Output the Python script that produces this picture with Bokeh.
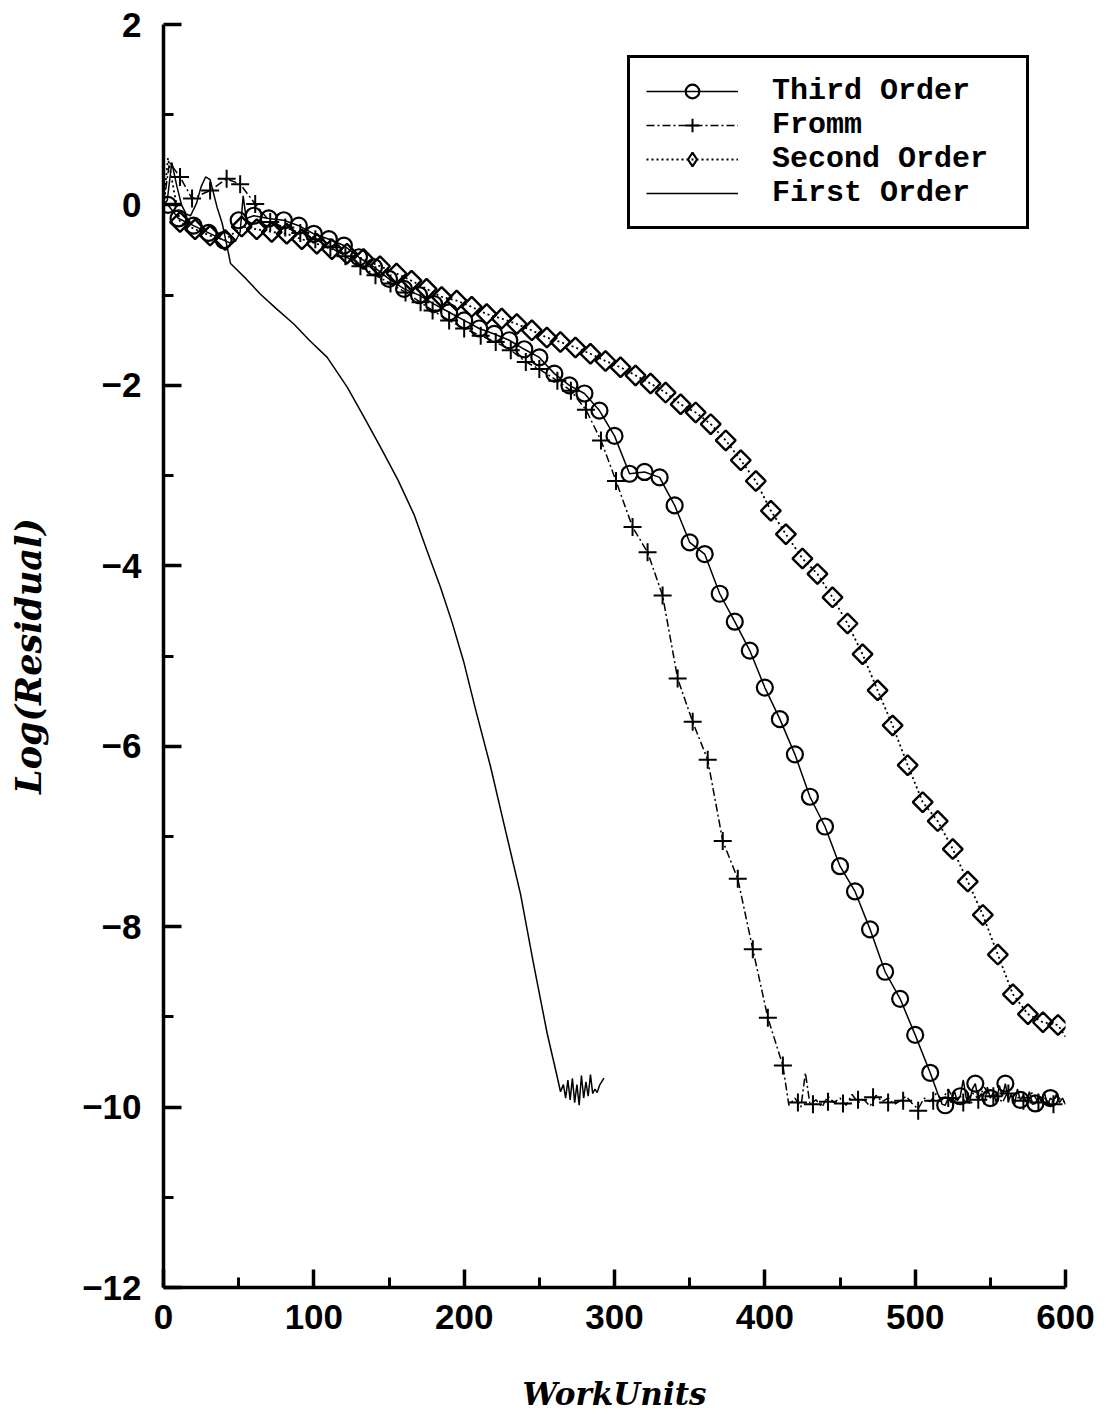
import numpy as np
from bokeh.plotting import figure
from bokeh.models import FixedTicker, Legend, LegendItem, Range1d
from bokeh.embed import file_html
from bokeh.resources import INLINE

# ---------------- data ----------------
x_ticks = [0, 100, 200, 300, 400, 500, 600]
x_minor = [50, 150, 250, 350, 450, 550]
y_ticks = [-12, -10, -8, -6, -4, -2, 0, 2]
y_minor = [-11, -9, -7, -5, -3, -1, 1]

# First Order (solid line, no markers)
first_x = [0, 2.5, 5.5, 9, 12, 15, 18, 22, 25, 28, 31, 35.7, 39, 42.4, 44.6, 55, 64.5, 75,
           86.7, 97, 108.9, 122.2, 133.3, 145.5, 156, 166.6, 175, 184.3, 192, 199.8, 208,
           217.6, 227, 237.5, 246, 255.3, 261, 264.1, 266, 267.5, 269, 270.5, 272, 273.5,
           275, 276.5, 278, 279.5, 281, 282.5, 284, 285.5, 287, 288.5, 290, 293]
first_y = [0.0, 0.05, 0.47, 0.2, 0.0, -0.1, -0.12, 0.02, 0.2, 0.31, 0.28, -0.03, -0.2, -0.47,
           -0.65, -0.82, -0.99, -1.15, -1.32, -1.5, -1.69, -2.02, -2.35, -2.72, -3.05, -3.43,
           -3.82, -4.24, -4.63, -5.07, -5.62, -6.23, -6.9, -7.64, -8.4, -9.19, -9.6, -9.83,
           -9.75, -9.9, -9.7, -9.92, -9.68, -9.95, -9.75, -9.98, -9.65, -9.9, -9.72, -9.88,
           -9.64, -9.85, -9.8, -9.84, -9.76, -9.68]

# Third Order: markers (circles) and line
third_mx = [3, 10, 20, 30, 40, 50, 60, 70, 80, 90, 100, 110, 120, 130, 140, 150, 160, 170,
            180, 190, 200, 210, 220, 230, 240, 250, 260, 270, 280, 290, 300, 310, 320, 330,
            340, 350, 360, 370, 380, 390, 400, 410, 420, 430, 440, 450, 460, 470, 480, 490,
            500, 510, 520, 530, 540, 550, 560, 570, 580, 590]
third_my = [0.0, -0.15, -0.23, -0.31, -0.39, -0.17, -0.12, -0.15, -0.17, -0.23, -0.32, -0.38,
            -0.45, -0.58, -0.69, -0.82, -0.93, -1.0, -1.1, -1.19, -1.28, -1.37, -1.43, -1.5,
            -1.6, -1.69, -1.87, -2.0, -2.09, -2.28, -2.56, -2.98, -2.96, -3.02, -3.33, -3.74,
            -3.87, -4.31, -4.62, -4.94, -5.35, -5.7, -6.09, -6.56, -6.89, -7.33, -7.61, -8.03,
            -8.5, -8.8, -9.2, -9.62, -9.98, -9.88, -9.74, -9.9, -9.74, -9.92, -9.96, -9.9]
third_x = [0, 3, 10, 20, 30, 40, 44, 48, 51, 53, 55, 60, 70, 80, 90, 100, 110, 120, 130, 140,
           150, 160, 170, 180, 190, 200, 210, 220, 230, 240, 250, 260, 270, 280, 290, 300,
           310, 320, 330, 340, 350, 360, 370, 380, 390, 400, 410, 420, 430, 440, 450, 460,
           470, 480, 490, 500, 510, 515, 518, 520, 522, 524, 526, 528, 530, 532, 534, 536,
           538, 540, 542, 544, 546, 548, 550, 552, 554, 556, 558, 560, 562, 564, 566, 568,
           570, 572, 574, 576, 578, 580, 582, 584, 586, 588, 590, 592, 594, 596, 598, 600]
third_y = [0.0, 0.0, -0.15, -0.23, -0.31, -0.39, -0.42, -0.4, -0.3, 0.1, -0.15, -0.12, -0.15,
           -0.17, -0.23, -0.32, -0.38, -0.45, -0.58, -0.69, -0.82, -0.93, -1.0, -1.1, -1.19,
           -1.28, -1.37, -1.43, -1.5, -1.6, -1.69, -1.87, -2.0, -2.09, -2.28, -2.56, -2.98,
           -2.96, -3.02, -3.33, -3.74, -3.87, -4.31, -4.62, -4.94, -5.35, -5.7, -6.09, -6.56,
           -6.89, -7.33, -7.61, -8.03, -8.5, -8.8, -9.2, -9.62, -9.85, -9.97, -9.98, -9.9,
           -9.95, -9.82, -9.93, -9.88, -9.7, -9.9, -9.96, -9.8, -9.74, -9.92, -9.85, -9.97,
           -9.78, -9.9, -9.84, -9.95, -9.76, -9.88, -9.74, -9.93, -9.86, -9.98, -9.8, -9.92,
           -9.87, -9.95, -9.83, -9.97, -9.96, -9.88, -9.94, -9.84, -9.98, -9.9, -9.93, -9.86,
           -9.95, -9.9, -9.97]

# Fromm: markers (plus) and line
fromm_mx = [11, 19, 31, 42, 51, 61, 71, 81, 91, 101, 111, 121, 131, 141, 151, 161, 171, 179,
            190, 200, 211, 221, 231, 241, 250, 262, 271, 281, 291, 301, 312, 322, 332, 342,
            352, 362, 372, 382, 392, 402, 412, 422, 432, 442, 452, 462, 472, 482, 492, 502,
            512, 522, 532, 542, 552, 562, 572, 582, 592]
fromm_my = [0.31, 0.07, 0.16, 0.29, 0.23, 0.01, -0.19, -0.25, -0.31, -0.38, -0.47, -0.57,
            -0.68, -0.78, -0.87, -0.97, -1.08, -1.17, -1.28, -1.37, -1.45, -1.52, -1.61,
            -1.74, -1.82, -1.95, -2.06, -2.27, -2.61, -3.06, -3.57, -3.85, -4.33, -5.25,
            -5.73, -6.15, -7.05, -7.47, -8.25, -9.01, -9.54, -9.95, -9.97, -9.94, -9.96,
            -9.92, -9.89, -9.95, -9.93, -10.04, -9.93, -9.9, -9.95, -9.92, -9.88, -9.85,
            -9.93, -9.95, -9.97]
fromm_x = [0, 4, 11, 19, 31, 42, 51, 56, 61, 71, 81, 91, 101, 111, 121, 131, 141, 151, 161,
           171, 179, 190, 200, 211, 221, 231, 241, 250, 262, 271, 281, 291, 301, 312, 322,
           332, 342, 352, 362, 372, 382, 392, 402, 412, 416, 420, 424, 427, 430, 434, 438,
           442, 446, 450, 454, 458, 462, 466, 470, 474, 478, 482, 486, 490, 494, 498, 502,
           506, 510, 514, 518, 522, 526, 530, 534, 538, 542, 546, 550, 554, 558, 562, 566,
           570, 574, 578, 582, 586, 590, 594, 598, 600]
fromm_y = [0.0, 0.47, 0.31, 0.07, 0.16, 0.29, 0.23, 0.12, 0.01, -0.19, -0.25, -0.31, -0.38,
           -0.47, -0.57, -0.68, -0.78, -0.87, -0.97, -1.08, -1.17, -1.28, -1.37, -1.45,
           -1.52, -1.61, -1.74, -1.82, -1.95, -2.06, -2.27, -2.61, -3.06, -3.57, -3.85,
           -4.33, -5.25, -5.73, -6.15, -7.05, -7.47, -8.25, -9.01, -9.54, -9.98, -9.9, -10.0,
           -9.62, -9.97, -9.92, -10.0, -9.88, -9.95, -9.9, -9.98, -9.86, -9.95, -9.92, -9.99,
           -9.87, -9.94, -9.9, -9.97, -9.93, -9.88, -9.96, -10.02, -9.9, -9.94, -9.85, -9.92,
           -9.8, -9.93, -9.88, -9.95, -9.84, -9.91, -9.78, -9.9, -9.86, -9.95, -9.82, -9.93,
           -9.88, -9.9, -9.84, -9.95, -9.9, -9.97, -9.88, -9.93, -9.95]

# Second Order: markers (diamonds) and line
second_mx = [11, 21, 31, 41, 52, 62, 72, 82, 92, 102, 112, 122, 133, 144, 155, 165, 175, 185,
             195, 205, 215, 225, 235, 245, 255, 264, 274, 284, 294, 304, 314, 324, 334, 344,
             354, 364, 374, 384, 394, 404, 414, 425, 435, 445, 455, 465, 475, 485, 495, 505,
             515, 525, 535, 545, 555, 565, 575, 585, 595]
second_my = [-0.19, -0.27, -0.34, -0.39, -0.24, -0.27, -0.3, -0.32, -0.38, -0.43, -0.49,
             -0.54, -0.6, -0.68, -0.76, -0.84, -0.93, -1.02, -1.06, -1.13, -1.21, -1.26,
             -1.32, -1.39, -1.47, -1.52, -1.58, -1.65, -1.73, -1.8, -1.89, -1.98, -2.08,
             -2.21, -2.3, -2.43, -2.61, -2.83, -3.06, -3.39, -3.65, -3.92, -4.09, -4.35,
             -4.64, -4.98, -5.38, -5.77, -6.21, -6.62, -6.83, -7.14, -7.5, -7.87, -8.31,
             -8.75, -8.97, -9.06, -9.09]
second_x = [0, 3, 7] + second_mx + [600]
second_y = [0.0, 0.52, 0.15] + second_my + [-9.22]

# ---------------- figure ----------------
p = figure(width=1098, height=1414, x_range=Range1d(0, 600), y_range=Range1d(-12, 2),
           output_backend="svg", toolbar_location=None,
           min_border_left=163, min_border_right=33, min_border_top=24, min_border_bottom=127,
           x_axis_label="WorkUnits", y_axis_label="Log(Residual)")
p.outline_line_color = None
p.grid.visible = False
p.background_fill_color = "white"

p.xaxis.ticker = FixedTicker(ticks=x_ticks, minor_ticks=x_minor)
p.yaxis.ticker = FixedTicker(ticks=y_ticks, minor_ticks=y_minor)
p.yaxis.major_label_overrides = {t: ("\u2212" + str(abs(t)) if t < 0 else str(t)) for t in y_ticks}

for ax in (p.xaxis[0], p.yaxis[0]):
    ax.axis_line_width = 3.5
    ax.axis_line_color = "black"
    ax.major_tick_in = 18
    ax.major_tick_out = 0
    ax.minor_tick_in = 10
    ax.minor_tick_out = 0
    ax.major_tick_line_width = 3.5
    ax.minor_tick_line_width = 3
    ax.major_tick_line_color = "black"
    ax.minor_tick_line_color = "black"
    ax.major_label_text_font = "Liberation Sans"
    ax.major_label_text_font_style = "bold"
    ax.major_label_text_font_size = "35px"
    ax.major_label_text_color = "black"
    ax.axis_label_text_font = "DejaVu Serif"
    ax.axis_label_text_font_style = "bold italic"
    ax.axis_label_text_color = "black"

p.xaxis.axis_label_text_font_size = "31px"
p.yaxis.axis_label_text_font_size = "35px"
p.yaxis.major_label_standoff = 22
p.xaxis.major_label_standoff = 17
p.yaxis.axis_label_standoff = 30
p.xaxis.axis_label_standoff = 44

# ---------------- series ----------------
r_first = p.line(first_x, first_y, line_color="black", line_width=1.5)

r_third_l = p.line(third_x, third_y, line_color="black", line_width=1.5)
r_third_m = p.scatter(third_mx, third_my, marker="circle", size=16, fill_alpha=0,
                      line_color="black", line_width=2.2)

r_fromm_l = p.line(fromm_x, fromm_y, line_color="black", line_width=1.5, line_dash="8 3 2 3")
r_fromm_m = p.scatter(fromm_mx, fromm_my, marker="cross", size=18,
                      line_color="black", line_width=2.0)

r_second_l = p.line(second_x, second_y, line_color="black", line_width=1.8, line_dash="2 3")
r_second_m = p.scatter(second_mx, second_my, marker="square", angle=np.pi / 4, size=14,
                       fill_alpha=0, line_color="black", line_width=2.4)
# legend-only glyph: hidden in the plot (the legend ignores marker angle, so a diamond here)
r_second_leg = p.scatter(second_mx, second_my, marker="diamond", size=16, fill_alpha=0,
                         line_color="black", line_width=2.2, visible=False)

legend = Legend(items=[
    LegendItem(label="Third Order", renderers=[r_third_l, r_third_m]),
    LegendItem(label="Fromm", renderers=[r_fromm_l, r_fromm_m]),
    LegendItem(label="Second Order", renderers=[r_second_l, r_second_leg]),
    LegendItem(label="First Order", renderers=[r_first]),
], location=(464, 1058))
legend.border_line_color = "black"
legend.border_line_alpha = 1
legend.border_line_width = 3
legend.background_fill_color = "white"
legend.background_fill_alpha = 1
legend.inactive_fill_alpha = 0
legend.glyph_width = 92
legend.glyph_height = 34
legend.label_height = 34
legend.label_width = 238
legend.spacing = 0
legend.padding = 16
legend.margin = 0
legend.label_standoff = 34
legend.label_text_font = "Liberation Mono"
legend.label_text_font_style = "bold"
legend.label_text_font_size = "30px"
legend.label_text_color = "black"
legend.label_text_line_height = 0.9
p.add_layout(legend)

open("out.html", "w").write(file_html(p, INLINE))
